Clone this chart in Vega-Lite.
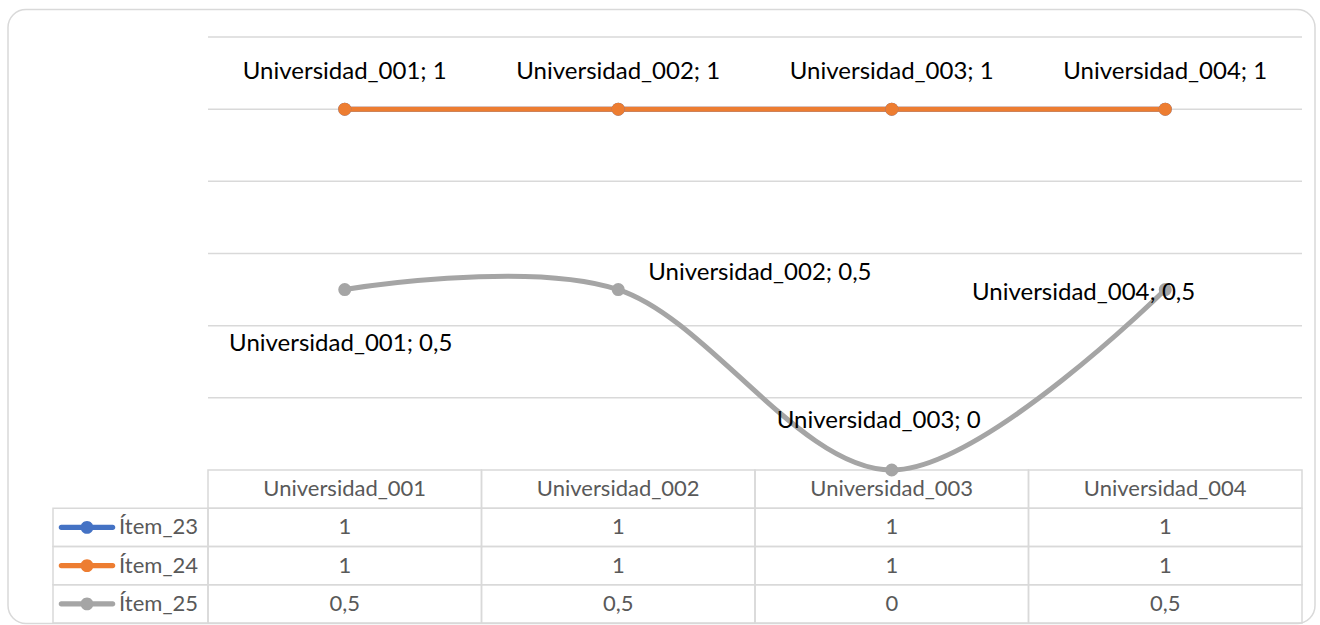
{
  "$schema": "https://vega.github.io/schema/vega-lite/v6.json",
  "width": 1307,
  "height": 614,
  "autosize": {"type": "none"},
  "padding": {"left": 8, "top": 9.5, "right": 5, "bottom": 1.5},
  "background": "#ffffff",
  "config": {
    "view": {"stroke": "#d9d9d9", "strokeWidth": 1.5, "cornerRadius": 18, "fill": "#ffffff"},
    "text": {"font": "Lato"}
  },
  "data": {
    "values": [
      {"uni": "Universidad_001", "item": "Ítem_23", "value": 1},
      {"uni": "Universidad_002", "item": "Ítem_23", "value": 1},
      {"uni": "Universidad_003", "item": "Ítem_23", "value": 1},
      {"uni": "Universidad_004", "item": "Ítem_23", "value": 1},
      {"uni": "Universidad_001", "item": "Ítem_24", "value": 1},
      {"uni": "Universidad_002", "item": "Ítem_24", "value": 1},
      {"uni": "Universidad_003", "item": "Ítem_24", "value": 1},
      {"uni": "Universidad_004", "item": "Ítem_24", "value": 1},
      {"uni": "Universidad_001", "item": "Ítem_25", "value": 0.5},
      {"uni": "Universidad_002", "item": "Ítem_25", "value": 0.5},
      {"uni": "Universidad_003", "item": "Ítem_25", "value": 0},
      {"uni": "Universidad_004", "item": "Ítem_25", "value": 0.5}
    ]
  },
  "transform": [
    {"calculate": "replace(format(datum.value, '~g'), '.', ',')", "as": "vtxt"},
    {"calculate": "datum.uni + '; ' + datum.vtxt", "as": "lbl"}
  ],
  "resolve": {"scale": {"x": "independent", "y": "independent"}},
  "layer": [
    {
      "data": {"values": [{"g": 0.2}, {"g": 0.4}, {"g": 0.6}, {"g": 0.8}, {"g": 1}, {"g": 1.2}]},
      "mark": {"type": "rule", "color": "#d9d9d9", "strokeWidth": 1.5},
      "encoding": {
        "x": {"datum": "Universidad_001", "type": "nominal", "bandPosition": 0, "axis": null,
              "scale": {"type": "band", "domain": ["Universidad_001", "Universidad_002", "Universidad_003", "Universidad_004"], "range": [200, 1294], "paddingInner": 0, "paddingOuter": 0}},
        "x2": {"datum": "Universidad_004", "bandPosition": 1},
        "y": {"field": "g", "type": "quantitative", "axis": null,
              "scale": {"domain": [0, 1.2], "range": [460.5, 27.5], "nice": false, "zero": false}}
      }
    },
    {
      "mark": {"type": "rect", "fill": "#ffffff", "fillOpacity": 0, "stroke": "#d9d9d9", "strokeWidth": 1.5},
      "encoding": {
        "x": {"field": "uni", "type": "nominal", "axis": null,
              "scale": {"type": "band", "domain": ["Universidad_001", "Universidad_002", "Universidad_003", "Universidad_004"], "range": [200, 1294], "paddingInner": 0, "paddingOuter": 0}},
        "y": {"field": "item", "type": "nominal", "axis": null,
              "scale": {"type": "band", "domain": ["header", "Ítem_23", "Ítem_24", "Ítem_25"], "range": [460.5, 613.5], "paddingInner": 0, "paddingOuter": 0}}
      }
    },
    {
      "transform": [{"aggregate": [{"op": "count", "as": "n"}], "groupby": ["uni"]}],
      "mark": {"type": "rect", "fill": "#ffffff", "fillOpacity": 0, "stroke": "#d9d9d9", "strokeWidth": 1.5},
      "encoding": {
        "x": {"field": "uni", "type": "nominal", "axis": null,
              "scale": {"type": "band", "domain": ["Universidad_001", "Universidad_002", "Universidad_003", "Universidad_004"], "range": [200, 1294], "paddingInner": 0, "paddingOuter": 0}},
        "y": {"datum": "header", "type": "nominal", "axis": null,
              "scale": {"type": "band", "domain": ["header", "Ítem_23", "Ítem_24", "Ítem_25"], "range": [460.5, 613.5], "paddingInner": 0, "paddingOuter": 0}}
      }
    },
    {
      "transform": [{"aggregate": [{"op": "count", "as": "n"}], "groupby": ["item"]}],
      "mark": {"type": "rect", "fill": "#ffffff", "fillOpacity": 0, "stroke": "#d9d9d9", "strokeWidth": 1.5},
      "encoding": {
        "x": {"datum": "leg", "type": "nominal", "axis": null,
              "scale": {"type": "band", "domain": ["leg"], "range": [45, 200], "paddingInner": 0, "paddingOuter": 0}},
        "y": {"field": "item", "type": "nominal", "axis": null,
              "scale": {"type": "band", "domain": ["header", "Ítem_23", "Ítem_24", "Ítem_25"], "range": [460.5, 613.5], "paddingInner": 0, "paddingOuter": 0}}
      }
    },
    {
      "transform": [{"aggregate": [{"op": "count", "as": "n"}], "groupby": ["item"]}],
      "mark": {"type": "point", "filled": true, "opacity": 1, "strokeWidth": 0, "size": 3136, "xOffset": 34,
               "shape": "M-0.92,-0.09H0.92A0.09,0.09 0 0,1 0.92,0.09H-0.92A0.09,0.09 0 0,1 -0.92,-0.09Z M0.23,0A0.23,0.23 0 1,1 -0.23,0A0.23,0.23 0 1,1 0.23,0Z"},
      "encoding": {
        "x": {"datum": "leg", "type": "nominal", "bandPosition": 0, "axis": null,
              "scale": {"type": "band", "domain": ["leg"], "range": [45, 200], "paddingInner": 0, "paddingOuter": 0}},
        "y": {"field": "item", "type": "nominal", "axis": null,
              "scale": {"type": "band", "domain": ["header", "Ítem_23", "Ítem_24", "Ítem_25"], "range": [460.5, 613.5], "paddingInner": 0, "paddingOuter": 0}},
        "color": {"field": "item", "type": "nominal", "legend": null,
                  "scale": {"domain": ["Ítem_23", "Ítem_24", "Ítem_25"], "range": ["#4472c4", "#ed7d31", "#a5a5a5"]}}
      }
    },
    {
      "transform": [{"aggregate": [{"op": "count", "as": "n"}], "groupby": ["item"]}],
      "mark": {"type": "text", "align": "left", "baseline": "middle", "dx": 66, "fontSize": 22, "color": "#595959"},
      "encoding": {
        "x": {"datum": "leg", "type": "nominal", "bandPosition": 0, "axis": null,
              "scale": {"type": "band", "domain": ["leg"], "range": [45, 200], "paddingInner": 0, "paddingOuter": 0}},
        "y": {"field": "item", "type": "nominal", "axis": null,
              "scale": {"type": "band", "domain": ["header", "Ítem_23", "Ítem_24", "Ítem_25"], "range": [460.5, 613.5], "paddingInner": 0, "paddingOuter": 0}},
        "text": {"field": "item"}
      }
    },
    {
      "mark": {"type": "text", "align": "center", "baseline": "middle", "fontSize": 22, "color": "#595959"},
      "encoding": {
        "x": {"field": "uni", "type": "nominal", "axis": null,
              "scale": {"type": "band", "domain": ["Universidad_001", "Universidad_002", "Universidad_003", "Universidad_004"], "range": [200, 1294], "paddingInner": 0, "paddingOuter": 0}},
        "y": {"field": "item", "type": "nominal", "axis": null,
              "scale": {"type": "band", "domain": ["header", "Ítem_23", "Ítem_24", "Ítem_25"], "range": [460.5, 613.5], "paddingInner": 0, "paddingOuter": 0}},
        "text": {"field": "vtxt"}
      }
    },
    {
      "transform": [{"aggregate": [{"op": "count", "as": "n"}], "groupby": ["uni"]}],
      "mark": {"type": "text", "align": "center", "baseline": "middle", "fontSize": 22, "color": "#595959"},
      "encoding": {
        "x": {"field": "uni", "type": "nominal", "axis": null,
              "scale": {"type": "band", "domain": ["Universidad_001", "Universidad_002", "Universidad_003", "Universidad_004"], "range": [200, 1294], "paddingInner": 0, "paddingOuter": 0}},
        "y": {"datum": "header", "type": "nominal", "axis": null,
              "scale": {"type": "band", "domain": ["header", "Ítem_23", "Ítem_24", "Ítem_25"], "range": [460.5, 613.5], "paddingInner": 0, "paddingOuter": 0}},
        "text": {"field": "uni"}
      }
    },
    {
      "mark": {"type": "line", "interpolate": "cardinal", "strokeWidth": 5, "strokeCap": "round"},
      "encoding": {
        "x": {"field": "uni", "type": "nominal", "axis": null,
              "scale": {"type": "band", "domain": ["Universidad_001", "Universidad_002", "Universidad_003", "Universidad_004"], "range": [200, 1294], "paddingInner": 0, "paddingOuter": 0}},
        "y": {"field": "value", "type": "quantitative", "axis": null,
              "scale": {"domain": [0, 1.2], "range": [460.5, 27.5], "nice": false, "zero": false}},
        "color": {"field": "item", "type": "nominal", "legend": null,
                  "scale": {"domain": ["Ítem_23", "Ítem_24", "Ítem_25"], "range": ["#4472c4", "#ed7d31", "#a5a5a5"]}}
      }
    },
    {
      "mark": {"type": "point", "filled": true, "opacity": 1, "shape": "circle", "size": 170, "strokeWidth": 0},
      "encoding": {
        "x": {"field": "uni", "type": "nominal", "axis": null,
              "scale": {"type": "band", "domain": ["Universidad_001", "Universidad_002", "Universidad_003", "Universidad_004"], "range": [200, 1294], "paddingInner": 0, "paddingOuter": 0}},
        "y": {"field": "value", "type": "quantitative", "axis": null,
              "scale": {"domain": [0, 1.2], "range": [460.5, 27.5], "nice": false, "zero": false}},
        "color": {"field": "item", "type": "nominal", "legend": null,
                  "scale": {"domain": ["Ítem_23", "Ítem_24", "Ítem_25"], "range": ["#4472c4", "#ed7d31", "#a5a5a5"]}}
      }
    },
    {
      "transform": [{"filter": "datum.item === 'Ítem_24'"}],
      "mark": {"type": "text", "align": "center", "baseline": "middle", "dy": -37, "fontSize": 24, "color": "#000000"},
      "encoding": {
        "x": {"field": "uni", "type": "nominal", "axis": null,
              "scale": {"type": "band", "domain": ["Universidad_001", "Universidad_002", "Universidad_003", "Universidad_004"], "range": [200, 1294], "paddingInner": 0, "paddingOuter": 0}},
        "y": {"field": "value", "type": "quantitative", "axis": null,
              "scale": {"domain": [0, 1.2], "range": [460.5, 27.5], "nice": false, "zero": false}},
        "text": {"field": "lbl"}
      }
    },
    {
      "transform": [{"filter": "datum.item === 'Ítem_25' && datum.uni === 'Universidad_001'"}],
      "mark": {"type": "text", "align": "center", "baseline": "middle", "dx": -4, "dy": 54, "fontSize": 24, "color": "#000000"},
      "encoding": {
        "x": {"field": "uni", "type": "nominal", "axis": null,
              "scale": {"type": "band", "domain": ["Universidad_001", "Universidad_002", "Universidad_003", "Universidad_004"], "range": [200, 1294], "paddingInner": 0, "paddingOuter": 0}},
        "y": {"field": "value", "type": "quantitative", "axis": null,
              "scale": {"domain": [0, 1.2], "range": [460.5, 27.5], "nice": false, "zero": false}},
        "text": {"field": "lbl"}
      }
    },
    {
      "transform": [{"filter": "datum.item === 'Ítem_25' && datum.uni === 'Universidad_002'"}],
      "mark": {"type": "text", "align": "left", "baseline": "middle", "dx": 30, "dy": -17, "fontSize": 24, "color": "#000000"},
      "encoding": {
        "x": {"field": "uni", "type": "nominal", "axis": null,
              "scale": {"type": "band", "domain": ["Universidad_001", "Universidad_002", "Universidad_003", "Universidad_004"], "range": [200, 1294], "paddingInner": 0, "paddingOuter": 0}},
        "y": {"field": "value", "type": "quantitative", "axis": null,
              "scale": {"domain": [0, 1.2], "range": [460.5, 27.5], "nice": false, "zero": false}},
        "text": {"field": "lbl"}
      }
    },
    {
      "transform": [{"filter": "datum.item === 'Ítem_25' && datum.uni === 'Universidad_003'"}],
      "mark": {"type": "text", "align": "center", "baseline": "middle", "dx": -13, "dy": -49, "fontSize": 24, "color": "#000000"},
      "encoding": {
        "x": {"field": "uni", "type": "nominal", "axis": null,
              "scale": {"type": "band", "domain": ["Universidad_001", "Universidad_002", "Universidad_003", "Universidad_004"], "range": [200, 1294], "paddingInner": 0, "paddingOuter": 0}},
        "y": {"field": "value", "type": "quantitative", "axis": null,
              "scale": {"domain": [0, 1.2], "range": [460.5, 27.5], "nice": false, "zero": false}},
        "text": {"field": "lbl"}
      }
    },
    {
      "transform": [{"filter": "datum.item === 'Ítem_25' && datum.uni === 'Universidad_004'"}],
      "mark": {"type": "text", "align": "right", "baseline": "middle", "dx": 30, "dy": 3, "fontSize": 24, "color": "#000000"},
      "encoding": {
        "x": {"field": "uni", "type": "nominal", "axis": null,
              "scale": {"type": "band", "domain": ["Universidad_001", "Universidad_002", "Universidad_003", "Universidad_004"], "range": [200, 1294], "paddingInner": 0, "paddingOuter": 0}},
        "y": {"field": "value", "type": "quantitative", "axis": null,
              "scale": {"domain": [0, 1.2], "range": [460.5, 27.5], "nice": false, "zero": false}},
        "text": {"field": "lbl"}
      }
    }
  ]
}
